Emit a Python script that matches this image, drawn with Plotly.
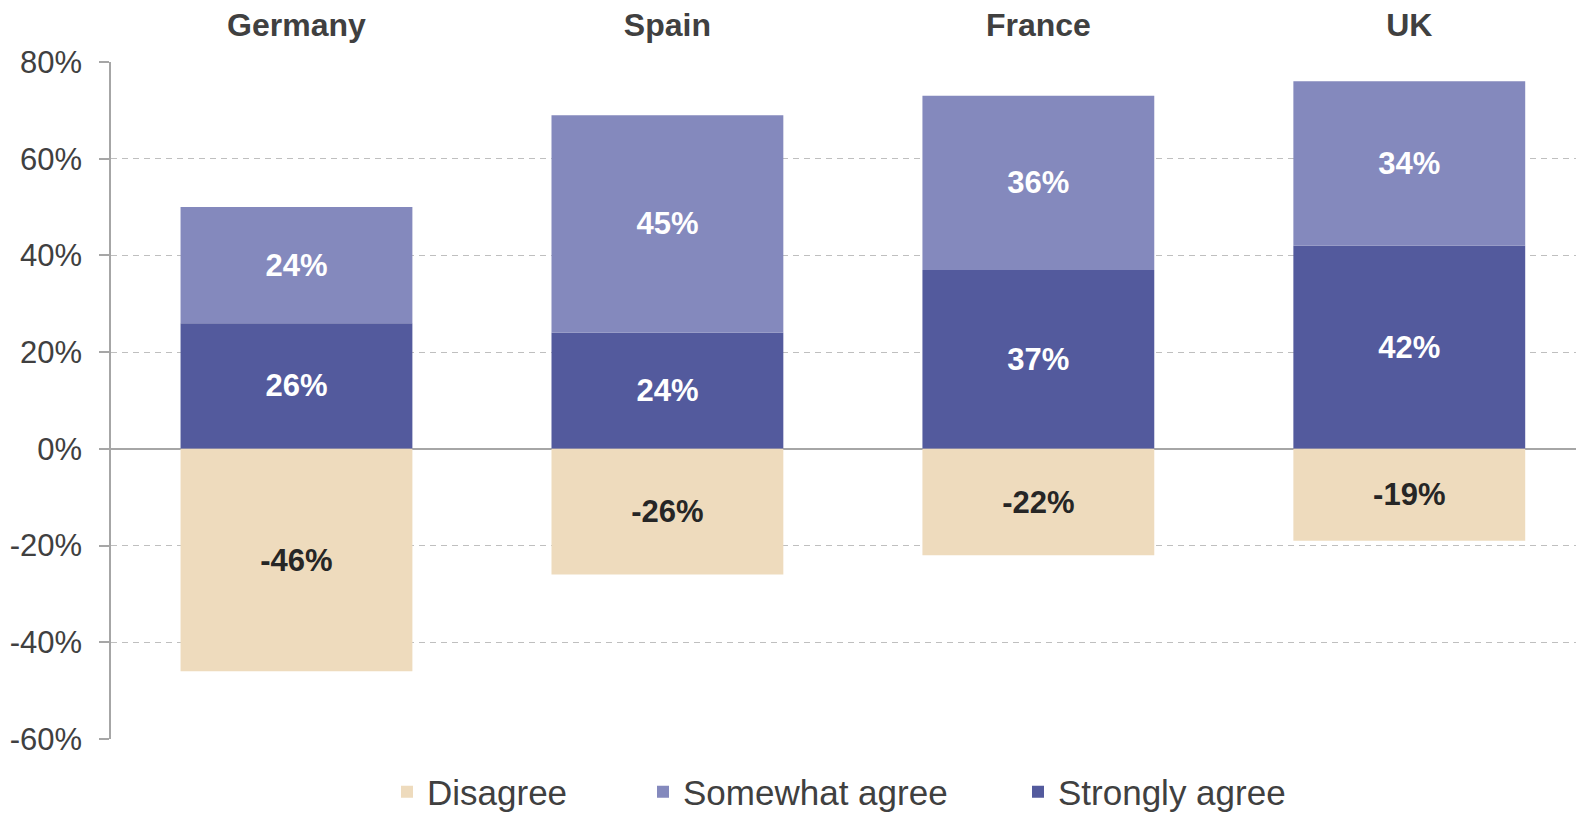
import plotly.graph_objects as go

countries = ["Germany", "Spain", "France", "UK"]
strongly_agree = [26, 24, 37, 42]
somewhat_agree = [24, 45, 36, 34]
disagree = [-46, -26, -22, -19]
y_ticks = [-60, -40, -20, 0, 20, 40, 60, 80]
y_tick_labels = ["-60%", "-40%", "-20%", "0%", "20%", "40%", "60%", "80%"]

C_DIS = "#EEDBBD"
C_SOME = "#8489BD"
C_STRONG = "#535A9D"

bar_w = 0.625
lbl_font = "Liberation Sans, Arial"
fig = go.Figure()
fig.add_trace(go.Bar(
    x=countries, y=strongly_agree, name="Strongly agree", marker_color=C_STRONG,
    width=bar_w, text=[f"{v}%" for v in strongly_agree], textposition="inside",
    insidetextanchor="middle",
    textfont=dict(color="white", size=31, family=lbl_font), legend="legend3",
    marker_line_width=0,
))
fig.add_trace(go.Bar(
    x=countries, y=somewhat_agree, name="Somewhat agree", marker_color=C_SOME,
    width=bar_w, text=[f"{v}%" for v in somewhat_agree], textposition="inside",
    insidetextanchor="middle",
    textfont=dict(color="white", size=31, family=lbl_font), legend="legend2",
    marker_line_width=0,
))
fig.add_trace(go.Bar(
    x=countries, y=disagree, name="Disagree", marker_color=C_DIS,
    width=bar_w, text=[f"{v}%" for v in disagree], textposition="inside",
    insidetextanchor="middle",
    textfont=dict(color="#262626", size=31, family=lbl_font), legend="legend",
    marker_line_width=0,
))
fig.update_traces(texttemplate="<b>%{text}</b>", cliponaxis=False)

# page body adds an 8px offset; figure sized to fit the window
W, H = 1576, 806
plot_l, plot_r = 103, 1576
plot_t, plot_b = 54, 731
pw = plot_r - plot_l
paper_h = plot_b - plot_t


def leg(xpix):
    return dict(
        x=(xpix - plot_l) / pw, xanchor="left", y=(plot_b - 784) / paper_h, yanchor="middle",
        orientation="h", bgcolor="rgba(0,0,0,0)", borderwidth=0,
        font=dict(family=lbl_font, size=35, color="#404040"),
    )


fig.update_layout(
    barmode="relative",
    width=W, height=H,
    margin=dict(l=plot_l, r=W - plot_r, t=plot_t, b=H - plot_b, autoexpand=False),
    plot_bgcolor="white", paper_bgcolor="white",
    font=dict(family=lbl_font, color="#404040"),
    showlegend=True,
    legend=leg(379),
    legend2=leg(635),
    legend3=leg(1010),
    xaxis=dict(
        side="top", range=[-0.5, 3.471], showgrid=False, showline=False, ticks="",
        tickfont=dict(size=32, color="#404040", family=lbl_font),
        tickvals=countries, ticktext=[f"<b>{c}</b>" for c in countries],
        ticklabelstandoff=19, automargin=False,
    ),
    yaxis=dict(
        range=[-60, 80], tickvals=y_ticks, ticktext=y_tick_labels,
        tickfont=dict(size=31, color="#404040"),
        showgrid=True, gridcolor="#BFBFBF", griddash="6px,5px", gridwidth=1,
        showline=True, linecolor="#A6A6A6", linewidth=1.5,
        ticks="outside", ticklen=10, tickcolor="#A6A6A6", tickwidth=1.5,
        zeroline=True, zerolinecolor="#A6A6A6", zerolinewidth=1.5,
        ticklabelstandoff=11, automargin=False,
    ),
)
fig.write_html("out.html")
